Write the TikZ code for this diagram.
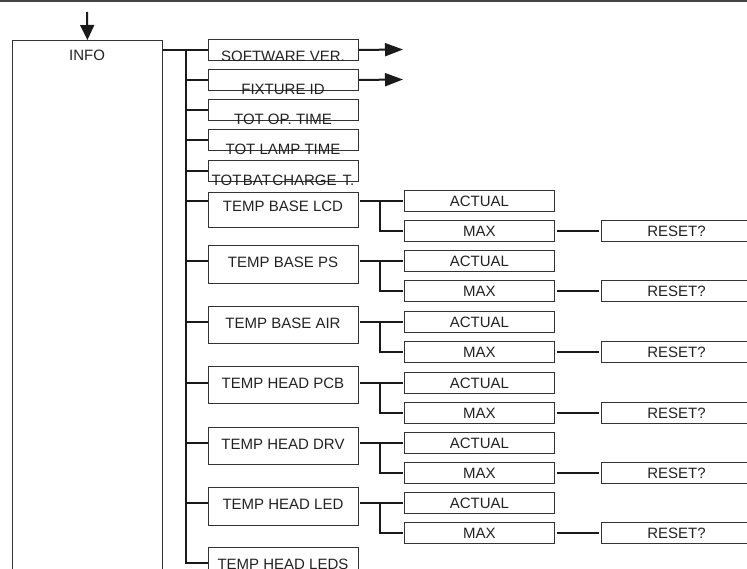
\documentclass[tikz,border=0pt]{standalone}
\usepackage{fontspec}
\setmainfont{Liberation Sans}
\usetikzlibrary{arrows.meta,calc}
\definecolor{boxc}{HTML}{333333}
\definecolor{txtc}{HTML}{222222}
\definecolor{linec}{HTML}{1A1A1A}
\definecolor{topc}{HTML}{444444}
\begin{document}
\begin{tikzpicture}[x=1pt,y=-1pt,
  box/.style={draw=boxc, line width=0.9pt, inner sep=0pt, anchor=north west,
    text=txtc, font=\fontsize{15}{18}\selectfont},
  txt/.style={text=txtc, font=\fontsize{15}{18}\selectfont, inner sep=0pt, anchor=base},
  conn/.style={draw=linec, line width=2pt},
  arr/.style={conn, -{Triangle[length=18pt,width=13pt]}},
  darr/.style={conn, -{Triangle[length=15pt,width=14pt]}},
]
\useasboundingbox (0,0) rectangle (747,568);
\draw[line width=1.5pt, draw=topc] (0,0.8) -- (747,0.8);

% main box
\node[box, minimum width=150pt, minimum height=560pt] (info) at (12,40) {};
\node[txt] (infot) at (87,60) {INFO};
\coordinate (entry) at (87,12);
\draw[darr] (entry) -- (info.north);

% trunk x
\coordinate (tr) at (186,0);
\coordinate (sbx) at (380,0);

% first five boxes
\foreach \n/\lab/\t/\b in {sw/SOFTWARE VER./39/61, fx/FIXTURE ID/69/94, op/TOT OP. TIME/99/124,
    lt/TOT LAMP TIME/129/154, bt/{TOT\kern1.5pt BAT\kern1.5pt CHARGE\kern6pt T.}/160/185}{
  \node[box, minimum width=150pt, minimum height=21pt] (\n) at (208,\t) {};
  \node[txt] (\n t) at (283,\b) {\lab};
  \draw[conn] (tr |- \n.west) -- (\n.west);
}
\draw[conn] (info.east |- sw.west) -- (tr |- sw.west);
\coordinate (swout) at (403,49.5);
\coordinate (fxout) at (403,79.5);
\draw[arr] (sw.east) -- (swout);
\draw[arr] (fx.east) -- (fxout);

% temp boxes with actual / max / reset
\foreach \n/\lab/\t/\h/\b/\y in {lcd/TEMP BASE LCD/192/35/211/201, ps/TEMP BASE PS/245/38/267/261,
    air/TEMP BASE AIR/306/37/328/322, pcb/TEMP HEAD PCB/366/37/388/383,
    drv/TEMP HEAD DRV/427/37/449/443, led/TEMP HEAD LED/487/38/509/503}{
  \node[box, minimum width=150pt, minimum height=\h pt] (\n) at (208,\t) {};
  \node[txt] (\n t) at (283,\b) {\lab};
  \node[box, anchor=west, minimum width=150pt, minimum height=21pt] (\n a) at (404,\y) {ACTUAL};
  \node[box, anchor=west, minimum width=150pt, minimum height=21pt] (\n m) at (404,\y+30) {MAX};
  \node[box, anchor=west, minimum width=150pt, minimum height=21pt] (\n r) at (601,\y+30) {RESET?};
  \draw[conn] (tr |- \n a.west) -- (\n.west |- \n a.west);
  \draw[conn, shorten >=1.5pt, shorten <=1.5pt] (\n.east |- \n a.west) -- (\n a.west);
  \draw[conn] (sbx |- \n a.west) -- (sbx |- \n m.west) -- ([xshift=-1.5pt]\n m.west);
  \draw[conn, shorten >=2pt, shorten <=2pt] (\n m.east) -- (\n r.west);
}

% last box
\node[box, minimum width=150pt, minimum height=40pt] (leds) at (208,547) {};
\node[txt] (ledst) at (283,569) {TEMP HEAD LEDS};
\coordinate (ledsin) at (208,563);
\draw[conn] (tr |- sw.west) -- (tr |- ledsin) -- (ledsin);
\end{tikzpicture}
\end{document}
